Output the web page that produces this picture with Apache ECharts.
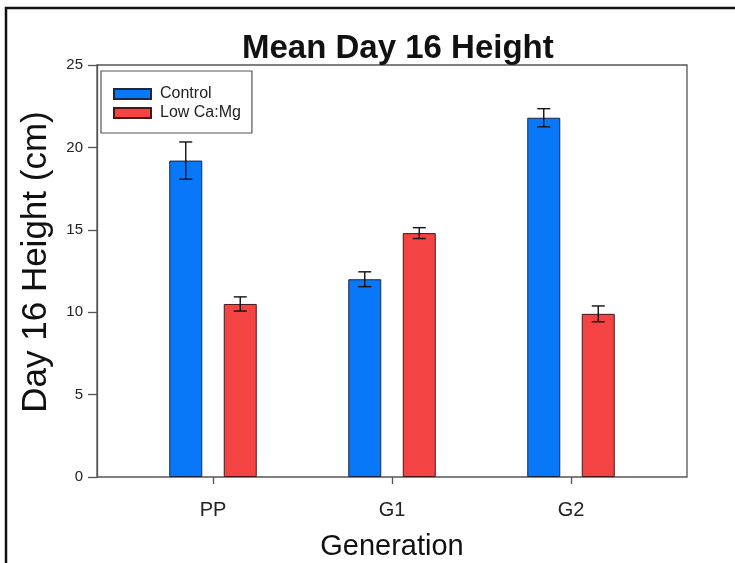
<!DOCTYPE html>
<html>
<head>
<meta charset="utf-8">
<script src="https://cdn.jsdelivr.net/npm/echarts@6/dist/echarts.min.js"></script>
<style>
  html, body { margin: 0; padding: 0; background: #fff; }
  #chart { width: 735px; height: 563px; }
</style>
</head>
<body>
<div id="chart"></div>
<script>
// Mean plant height on day 16, by generation and treatment
const generations = ['PP', 'G1', 'G2'];
const seriesNames = ['Control', 'Low Ca:Mg'];
const controlMean = [19.2, 12.0, 21.8];
const controlErr = [1.13, 0.45, 0.55];
const lowCaMgMean = [10.5, 14.8, 9.9];
const lowCaMgErr = [0.43, 0.33, 0.48];
const yTicks = [0, 5, 10, 15, 20, 25];

const FONT = '"Liberation Sans", Arial, sans-serif';
const BAR_W = 33;
const BAR_GAP_PX = 21.5;
const PAIR_OFFSET = (BAR_W + BAR_GAP_PX) / 2;
const CAP_HALF = 6.5;

// Whisker renderer: vertical line plus two caps, shifted onto its bar
function errorRenderer(shift) {
  return function (params, api) {
    const x = api.value(0);
    const lo = api.coord([x, api.value(1)]);
    const hi = api.coord([x, api.value(2)]);
    const cx = lo[0] + shift;
    const style = { stroke: '#111', lineWidth: 1.4 };
    return {
      type: 'group',
      children: [
        { type: 'line', shape: { x1: cx, y1: lo[1], x2: cx, y2: hi[1] }, style },
        { type: 'line', shape: { x1: cx - CAP_HALF, y1: lo[1], x2: cx + CAP_HALF, y2: lo[1] }, style },
        { type: 'line', shape: { x1: cx - CAP_HALF, y1: hi[1], x2: cx + CAP_HALF, y2: hi[1] }, style }
      ]
    };
  };
}

function errorData(means, errs) {
  return means.map((m, i) => [i, m - errs[i], m + errs[i]]);
}

const chart = echarts.init(document.getElementById('chart'), null, { renderer: 'canvas' });

chart.setOption({
  backgroundColor: '#fff',
  animation: false,
  textStyle: { fontFamily: FONT },
  title: {
    text: 'Mean Day 16 Height',
    left: 242,
    top: 32,
    padding: 0,
    textStyle: { fontFamily: FONT, fontSize: 33, fontWeight: 'bold', color: '#111' }
  },
  graphic: [{
    type: 'rect',
    shape: { x: 6, y: 8, width: 900, height: 900 },
    style: { fill: 'none', stroke: '#111', lineWidth: 2.5 },
    silent: true
  }],
  legend: {
    data: seriesNames,
    orient: 'vertical',
    left: 101,
    top: 71,
    padding: [15, 11, 12, 12],
    itemWidth: 37,
    itemHeight: 10,
    itemGap: 3,
    icon: 'rect',
    borderColor: '#555',
    borderWidth: 1.2,
    textStyle: { fontFamily: FONT, fontSize: 16, color: '#222', padding: [0, 0, 0, 4] }
  },
  grid: [
    { left: 123.5, right: 74.5, top: 65, bottom: 86, outerBoundsMode: 'none', containLabel: false },
    { left: 97, right: 48, top: 65, bottom: 86, outerBoundsMode: 'none', containLabel: false,
      show: true, borderColor: '#555', borderWidth: 1.3, backgroundColor: 'transparent' }
  ],
  xAxis: [
    {
      type: 'category',
      gridIndex: 0,
      data: generations,
      axisLine: { show: false },
      axisTick: { show: true, alignWithLabel: true, length: 7, lineStyle: { color: '#555', width: 1.3 } },
      axisLabel: { fontFamily: FONT, fontSize: 20, color: '#222', margin: 23 },
      name: 'Generation',
      nameLocation: 'middle',
      nameGap: 55,
      nameTextStyle: { fontFamily: FONT, fontSize: 29, color: '#111' }
    },
    { type: 'value', gridIndex: 1, show: false }
  ],
  yAxis: [
    {
      type: 'value',
      gridIndex: 0,
      min: 0,
      max: 25,
      interval: 5,
      offset: 26.5,
      splitLine: { show: false },
      axisLine: { show: true, lineStyle: { color: '#555', width: 1.3 } },
      axisTick: { show: true, length: 9, lineStyle: { color: '#555', width: 1.3 } },
      axisLabel: {
        fontFamily: FONT, fontSize: 15, color: '#222', margin: 14,
        customValues: yTicks
      },
      name: 'Day 16 Height (cm)',
      nameLocation: 'middle',
      nameGap: 43,
      nameTextStyle: { fontFamily: FONT, fontSize: 35, color: '#111', padding: [0, 0, 0, 18] }
    },
    { type: 'value', gridIndex: 1, show: false }
  ],
  series: [
    {
      name: seriesNames[0],
      type: 'bar',
      xAxisIndex: 0,
      yAxisIndex: 0,
      data: controlMean,
      barWidth: BAR_W,
      barGap: (BAR_GAP_PX / BAR_W * 100) + '%',
      itemStyle: { color: '#0878F9', borderColor: '#1b2740', borderWidth: 1 }
    },
    {
      name: seriesNames[1],
      type: 'bar',
      xAxisIndex: 0,
      yAxisIndex: 0,
      data: lowCaMgMean,
      barWidth: BAR_W,
      barGap: (BAR_GAP_PX / BAR_W * 100) + '%',
      itemStyle: { color: '#F34343', borderColor: '#4a1717', borderWidth: 1 }
    },
    {
      name: 'controlErr',
      type: 'custom',
      xAxisIndex: 0,
      yAxisIndex: 0,
      renderItem: errorRenderer(-PAIR_OFFSET),
      data: errorData(controlMean, controlErr),
      encode: { x: 0, y: [1, 2] },
      z: 5
    },
    {
      name: 'lowErr',
      type: 'custom',
      xAxisIndex: 0,
      yAxisIndex: 0,
      renderItem: errorRenderer(PAIR_OFFSET),
      data: errorData(lowCaMgMean, lowCaMgErr),
      encode: { x: 0, y: [1, 2] },
      z: 5
    }
  ]
});
</script>
</body>
</html>
